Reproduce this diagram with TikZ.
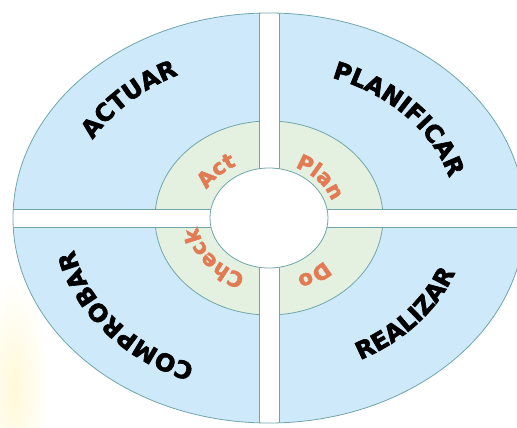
\documentclass[tikz,border=0pt]{standalone}
\usepackage{fontspec}
\usetikzlibrary{decorations.text}
\newfontfamily\wheelfont{DejaVu Sans Bold}[FakeBold=2.5]
\definecolor{ringblue}{RGB}{206,233,249}
\definecolor{ringgreen}{RGB}{228,241,224}
\definecolor{rimline}{RGB}{112,166,170}
\definecolor{labelorange}{RGB}{226,122,84}
\definecolor{glow}{RGB}{255,247,200}
\newcommand\bigword{\wheelfont\fontsize{24}{24}\selectfont}
\newcommand\smallword{\wheelfont\fontsize{21}{21}\selectfont\color{labelorange}}

\begin{document}
\begin{tikzpicture}[x=1pt, y=1pt,
   rim/.style={draw=rimline, line width=0.8pt},
   arclabel/.style={decorate, decoration={text along path, text align=center, text={#1}}}]
   \useasboundingbox (-269,-210) rectangle (248,218);
   \coordinate (c) at (0,0);

   % faint glow at the lower left
   \shade[inner color=glow, outer color=white, opacity=0.7] (-255,-170) ellipse [x radius=35, y radius=110];

   % outer ring and inner ring
   \fill[ringblue] (c) ellipse [x radius=256, y radius=205];
   \filldraw[fill=ringgreen, rim] (c) ellipse [x radius=114, y radius=97];

   % the white cross between the four parts
   \begin{scope}
      \clip (c) ellipse [x radius=256, y radius=205];
      \fill[white] (-10,-230) rectangle (10,230);
      \fill[white] (-280,-9) rectangle (280,9);
      \draw[rim] (-10,9) -- (-10,230) (10,9) -- (10,230);
      \draw[rim] (-10,-9) -- (-10,-230) (10,-9) -- (10,-230);
      \draw[rim] (-10,9) -- (-280,9) (-10,-9) -- (-280,-9);
      \draw[rim] (10,9) -- (280,9) (10,-9) -- (280,-9);
   \end{scope}
   \draw[rim] (c) ellipse [x radius=256, y radius=205];
   \filldraw[fill=white, rim] (c) ellipse [x radius=59, y radius=50];

   % outer words
   \path[arclabel={|\bigword|ACTUAR}] (187:202 and 160) arc[start angle=187, end angle=87, x radius=202, y radius=160];
   \path[arclabel={|\bigword|PLANIFICAR}] (95:187 and 149) arc[start angle=95, end angle=-15, x radius=187, y radius=149];
   \path[arclabel={|\bigword|REALIZAR}] (-93:198 and 160) arc[start angle=-93, end angle=17, x radius=198, y radius=160];
   \path[arclabel={|\bigword|COMPROBAR}] (272:199 and 158) arc[start angle=272, end angle=162, x radius=199, y radius=158];

   % inner words
   \path[arclabel={|\smallword|Act}] (187:71 and 59) arc[start angle=187, end angle=87, x radius=71, y radius=59];
   \path[arclabel={|\smallword|Plan}] (90:66 and 55) arc[start angle=90, end angle=-10, x radius=66, y radius=55];
   \path[arclabel={|\smallword|Do}] (-3:75 and 63) arc[start angle=-3, end angle=-103, x radius=75, y radius=63];
   \path[arclabel={|\smallword|Check}] (268:72 and 60) arc[start angle=268, end angle=168, x radius=72, y radius=60];
\end{tikzpicture}
\end{document}
